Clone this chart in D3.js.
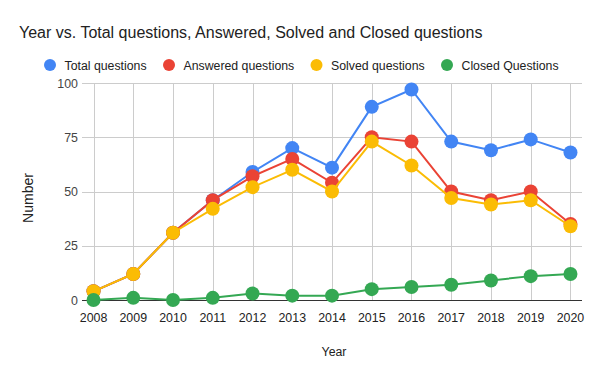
<!DOCTYPE html>
<html>
<head>
<meta charset="utf-8">
<script src="https://cdn.jsdelivr.net/npm/d3@7"></script>
<style>
  body { margin: 0; background: #fff; }
  text { font-family: Arial, "Liberation Sans", sans-serif; }
</style>
</head>
<body>
<div id="chart"></div>
<script>
// data
var years = [2008, 2009, 2010, 2011, 2012, 2013, 2014, 2015, 2016, 2017, 2018, 2019, 2020]
var totalQuestions = [4, 12, 31, 46, 59, 70, 61, 89, 97, 73, 69, 74, 68]
var answeredQuestions = [4, 12, 31, 46, 57, 65, 54, 75, 73, 50, 46, 50, 35]
var solvedQuestions = [4, 12, 31, 42, 52, 60, 50, 73, 62, 47, 44, 46, 34]
var closedQuestions = [0, 1, 0, 1, 3, 2, 2, 5, 6, 7, 9, 11, 12]
var yTicks = [0, 25, 50, 75, 100]

var seriesNames = ["Total questions", "Answered questions", "Solved questions", "Closed Questions"]
var seriesColors = ["#4285f4", "#ea4335", "#fbbc04", "#34a853"]
var allSeries = [totalQuestions, answeredQuestions, solvedQuestions, closedQuestions]

var width = 600, height = 371
var plot = { left: 82, right: 582, top: 83, bottom: 300 }

var svg = d3.select("#chart")
    .append("svg")
    .attr("width", width)
    .attr("height", height)

// title
svg.append("text")
    .attr("x", 19)
    .attr("y", 38)
    .style("font-size", "16px")
    .style("fill", "#222")
    .text("Year vs. Total questions, Answered, Solved and Closed questions")

// legend
var legendX = [50, 169, 316.5, 447]
var legend = svg.selectAll(".legend")
    .data(seriesNames)
    .enter()
    .append("g")
    .attr("transform", function (d, i) { return "translate(" + legendX[i] + ",65)" })
legend.append("circle")
    .attr("r", 6)
    .attr("fill", function (d, i) { return seriesColors[i] })
legend.append("text")
    .attr("x", 14.5)
    .attr("y", 4.5)
    .style("font-size", "12.3px")
    .style("fill", "#222")
    .text(function (d) { return d })

// scales
var x = d3.scalePoint()
    .domain(years)
    .range([plot.left, plot.right])
    .padding(0.29)
var y = d3.scaleLinear()
    .domain([0, 100])
    .range([plot.bottom, plot.top])

// gridlines
svg.append("g")
    .selectAll("line")
    .data(yTicks.slice(1))
    .enter()
    .append("line")
    .attr("x1", plot.left).attr("x2", plot.right)
    .attr("y1", function (d) { return Math.round(y(d)) + 0.5 })
    .attr("y2", function (d) { return Math.round(y(d)) + 0.5 })
    .attr("stroke", "#cccccc")
svg.append("g")
    .selectAll("line")
    .data(years)
    .enter()
    .append("line")
    .attr("x1", function (d) { return Math.round(x(d)) + 0.5 })
    .attr("x2", function (d) { return Math.round(x(d)) + 0.5 })
    .attr("y1", plot.top).attr("y2", plot.bottom)
    .attr("stroke", "#cccccc")

// baseline
svg.append("line")
    .attr("x1", plot.left).attr("x2", plot.right)
    .attr("y1", Math.round(y(0)) + 0.5).attr("y2", Math.round(y(0)) + 0.5)
    .attr("stroke", "#333")
    .attr("stroke-width", 1)

// y tick labels
svg.append("g")
    .selectAll("text")
    .data(yTicks)
    .enter()
    .append("text")
    .attr("x", 78)
    .attr("y", function (d) { return y(d) + 4.5 })
    .attr("text-anchor", "end")
    .style("font-size", "12.4px")
    .style("fill", "#444")
    .text(function (d) { return d })

// x tick labels
svg.append("g")
    .selectAll("text")
    .data(years)
    .enter()
    .append("text")
    .attr("x", function (d) { return x(d) })
    .attr("y", 321.5)
    .attr("text-anchor", "middle")
    .style("font-size", "12.4px")
    .style("fill", "#222")
    .text(function (d) { return d })

// axis titles
svg.append("text")
    .attr("x", 334)
    .attr("y", 356)
    .attr("text-anchor", "middle")
    .style("font-size", "12.3px")
    .style("fill", "#222")
    .text("Year")
svg.append("text")
    .attr("transform", "translate(33,198) rotate(-90)")
    .attr("text-anchor", "middle")
    .style("font-size", "14px")
    .style("fill", "#222")
    .text("Number")

// lines and points, one series at a time so later ones sit on top
var line = d3.line()
    .x(function (d, i) { return x(years[i]) })
    .y(function (d) { return y(d) })

allSeries.forEach(function (values, k) {
    var g = svg.append("g")
    g.append("path")
        .datum(values)
        .attr("d", line)
        .attr("fill", "none")
        .attr("stroke", seriesColors[k])
        .attr("stroke-width", 2)
    g.selectAll("circle")
        .data(values)
        .enter()
        .append("circle")
        .attr("cx", function (d, i) { return x(years[i]) })
        .attr("cy", function (d) { return y(d) })
        .attr("r", 7)
        .attr("fill", seriesColors[k])
})
</script>
</body>
</html>
